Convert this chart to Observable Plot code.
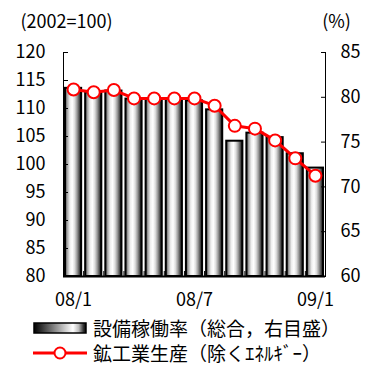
<!DOCTYPE html>
<html lang="ja">
<head>
<meta charset="utf-8">
<script src="https://cdn.jsdelivr.net/npm/d3@7"></script>
<script src="https://cdn.jsdelivr.net/npm/@observablehq/plot@0.6"></script>
<style>
  body { margin: 0; background: #fff; font-family: "Noto Sans CJK JP", sans-serif; }
  #legend { width: 370px; font-size: 19px; color: #000; }
  .row { display: flex; align-items: center; height: 25px; }
  .row svg { margin-left: 33px; margin-right: 6px; flex: none; }
</style>
</head>
<body>
<div id="chart"></div>
<div id="legend">
  <div class="row">
    <svg width="54" height="12"><defs>
      <linearGradient id="legend-grad" x1="0" x2="1" y1="0" y2="0">
        <stop offset="0" stop-color="#000"/>
        <stop offset="0.2" stop-color="#444"/>
        <stop offset="0.5" stop-color="#aaa"/>
        <stop offset="0.75" stop-color="#fff"/>
        <stop offset="0.86" stop-color="#bbb"/>
        <stop offset="0.95" stop-color="#333"/>
        <stop offset="1" stop-color="#000"/>
      </linearGradient></defs>
      <rect x="1" y="1" width="52" height="10" fill="url(#legend-grad)" stroke="#000" stroke-width="1.5"/>
    </svg>
    <span>設備稼働率（総合，右目盛）</span>
  </div>
  <div class="row">
    <svg width="54" height="14">
      <line x1="0" x2="54" y1="7" y2="7" stroke="#f00" stroke-width="3"/>
      <circle cx="27" cy="7" r="5.5" fill="#fff" stroke="#f00" stroke-width="2"/>
    </svg>
    <span>鉱工業生産（除くｴﾈﾙｷﾞｰ）</span>
  </div>
</div>
<script>
// Monthly series, Jan 2008 – Jan 2009
const months = ["08/1", "08/2", "08/3", "08/4", "08/5", "08/6", "08/7",
                "08/8", "08/9", "08/10", "08/11", "08/12", "09/1"];
// Industrial production excl. energy (2002=100), left axis
const production = [113.4, 112.9, 113.3, 111.8, 111.8, 111.8, 111.8,
                    110.5, 106.9, 106.4, 104.3, 101.1, 98.0];
// Capacity utilization, total (%), right axis
const utilization = [81.0, 80.5, 80.7, 79.8, 79.8, 79.8, 79.6,
                     78.6, 75.1, 76.0, 75.5, 73.7, 72.1];
const leftTicks = [80, 85, 90, 95, 100, 105, 110, 115, 120];
const rightTicks = [60, 65, 70, 75, 80, 85];
const shownMonths = ["08/1", "08/7", "09/1"];

// Right-axis (%) values are placed on the left scale: 60–85 maps onto 80–120
const toLeft = v => 80 + (v - 60) * (120 - 80) / (85 - 60);
const fromLeft = v => Math.round(60 + (v - 80) * (85 - 60) / (120 - 80));

const rows = months.map((m, i) => ({month: m, i, prod: production[i], util: utilization[i]}));
const labelPos = shownMonths.map(m => months.indexOf(m) + 0.5);
const boundaries = d3.range(1, months.length);

// Cylinder-style shading for the bars
const gradient = () => {
  const defs = d3.create("svg:defs");
  const g = defs.append("linearGradient").attr("id", "bar-grad")
    .attr("x1", 0).attr("x2", 1).attr("y1", 0).attr("y2", 0);
  [[0, "#444"], [0.15, "#aaa"], [0.3, "#eee"], [0.45, "#fff"], [0.6, "#ddd"],
   [0.75, "#999"], [0.9, "#444"], [1, "#000"]]
    .forEach(([o, c]) => g.append("stop").attr("offset", o).attr("stop-color", c));
  return defs.node();
};

const chart = Plot.plot({
  width: 370,
  height: 315,
  marginLeft: 63,
  marginRight: 45,
  marginTop: 52,
  marginBottom: 39,
  style: {fontFamily: "Noto Sans CJK JP, sans-serif", fontSize: "18px", color: "#000", background: "#fff"},
  x: {type: "linear", domain: [0, months.length]},
  y: {domain: [80, 120]},
  marks: [
    gradient,
    Plot.rect(rows, {
      x1: "i", x2: d => d.i + 1, y1: 80, y2: d => toLeft(d.util),
      insetLeft: 2, insetRight: 2,
      fill: "url(#bar-grad)", stroke: "#000", strokeWidth: 2
    }),
    Plot.axisY(leftTicks, {anchor: "left", tickSize: -5, tickPadding: 23, fontSize: 18, label: null}),
    Plot.axisY(rightTicks.map(toLeft), {anchor: "right", tickSize: -5, tickPadding: 20,
      tickFormat: v => fromLeft(v), fontSize: 18, label: null}),
    Plot.axisX(boundaries, {anchor: "bottom", tickSize: -5, tickFormat: () => "", label: null}),
    Plot.axisX(labelPos, {anchor: "bottom", tickSize: 0, tickPadding: 17,
      tickFormat: v => months[v - 0.5], fontSize: 18, label: null}),
    Plot.ruleX([0, months.length], {stroke: "#000", strokeWidth: 1}),
    Plot.ruleY([80], {stroke: "#000", strokeWidth: 2}),
    Plot.line(rows, {x: d => d.i + 0.5, y: "prod", stroke: "#f00", strokeWidth: 3}),
    Plot.dot(rows, {x: d => d.i + 0.5, y: "prod", r: 6, fill: "#fff", stroke: "#f00", strokeWidth: 2}),
    Plot.text(["(2002=100)"], {frameAnchor: "top-left", dx: -43, dy: -30, textAnchor: "start", lineAnchor: "middle", fontSize: 18, letterSpacing: 1}),
    Plot.text(["(%)"], {frameAnchor: "top-right", dx: 11, dy: -30, textAnchor: "middle", lineAnchor: "middle", fontSize: 18, letterSpacing: 3})
  ]
});
document.getElementById("chart").append(chart);
</script>
</body>
</html>
